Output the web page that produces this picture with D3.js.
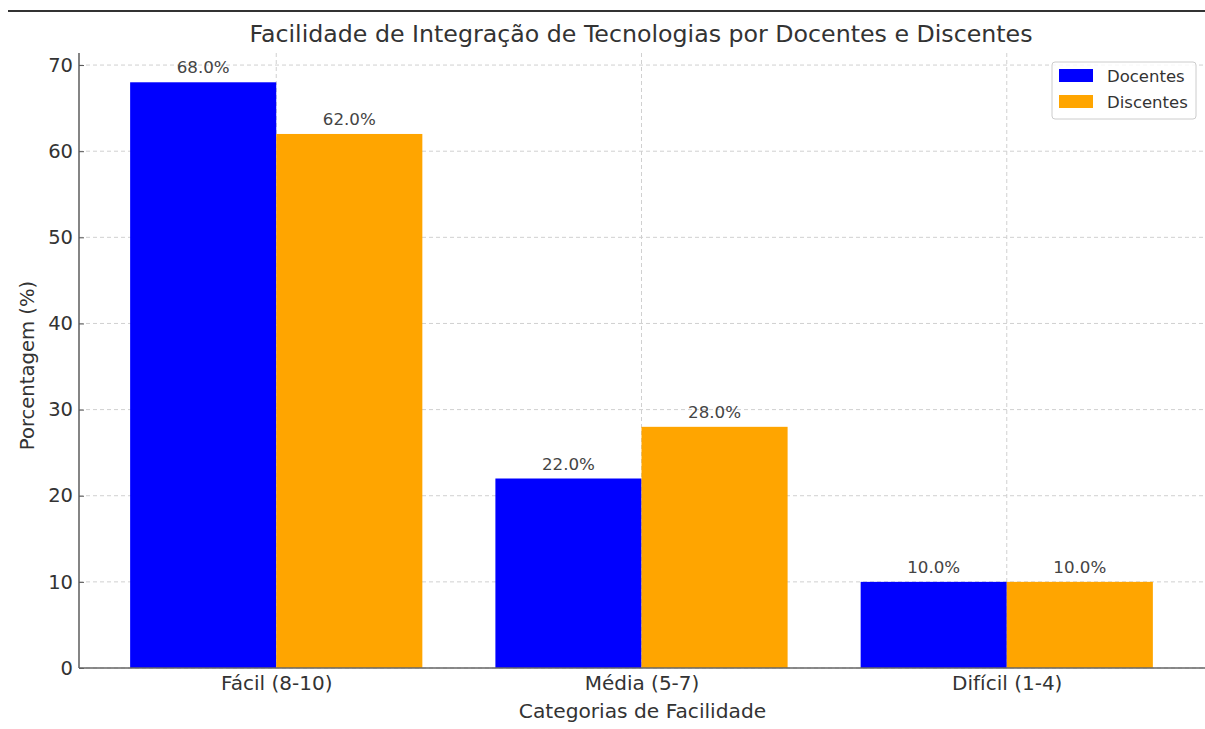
<!DOCTYPE html>
<html><head><meta charset="utf-8">
<script src="https://cdn.jsdelivr.net/npm/d3@7"></script>
<style>body{margin:0;background:#fff;} text{font-family:"DejaVu Sans",sans-serif;}</style>
</head><body><svg id="c" width="1205" height="729"></svg>
<script>
const categories = ["Fácil (8-10)", "Média (5-7)", "Difícil (1-4)"];
const seriesNames = ["Docentes", "Discentes"];
const docentes = [68, 22, 10];
const discentes = [62, 28, 10];
const yTicks = [0, 10, 20, 30, 40, 50, 60, 70];
const colors = ["#0000ff", "#ffa500"];
const title = "Facilidade de Integração de Tecnologias por Docentes e Discentes";

const svg = d3.select("#c");
svg.append("line").attr("x1",8).attr("x2",1205).attr("y1",11).attr("y2",11).attr("stroke","#333").attr("stroke-width",2);

const L=79, R=1204, T=53, B=668;
const x = d3.scaleLinear().domain([-0.54, 2.54]).range([L, R]);
const y = d3.scaleLinear().domain([0, 71.4]).range([B, T]);
const bw = 0.4;
const g = svg.append("g");
// grid
g.selectAll(".gy").data(yTicks).enter().append("line")
  .attr("x1",L).attr("x2",R).attr("y1",d=>y(d)).attr("y2",d=>y(d))
  .attr("stroke","#d0d0d0").attr("stroke-dasharray","4,3").attr("stroke-width",1);
g.selectAll(".gx").data(categories).enter().append("line")
  .attr("x1",(d,i)=>x(i)).attr("x2",(d,i)=>x(i)).attr("y1",T).attr("y2",B)
  .attr("stroke","#d0d0d0").attr("stroke-dasharray","4,3").attr("stroke-width",1);

const series=[docentes, discentes];
series.forEach((vals, s)=>{
  const off = s===0 ? -bw : 0;
  g.selectAll(".b"+s).data(vals).enter().append("rect")
   .attr("x",(d,i)=>x(i+off)).attr("width",x(bw)-x(0))
   .attr("y",d=>y(d)).attr("height",d=>B-y(d)).attr("fill",colors[s]);
  g.selectAll(".l"+s).data(vals).enter().append("text")
   .attr("x",(d,i)=>x(i+off+bw/2)).attr("y",d=>y(d)-9)
   .attr("text-anchor","middle").attr("font-size",16.7).attr("fill","#444")
   .text(d=>d.toFixed(1)+"%");
});

// axes
const yAxis = d3.axisLeft(y).tickValues(yTicks).tickSize(-5).tickPadding(6);
const ya = svg.append("g").attr("transform",`translate(${L},0)`).call(yAxis);
ya.select(".domain").attr("stroke","#666").attr("stroke-width",1.6).attr("d",`M-0,${T}V${B}`);
ya.selectAll(".tick line").attr("stroke","#555");
ya.selectAll(".tick text").attr("font-size",19.5).attr("fill","#333").attr("font-family","DejaVu Sans");

const xAxis = d3.axisBottom(x).tickValues([0,1,2]).tickFormat(i=>categories[i]).tickSize(0).tickPadding(8);
const xa = svg.append("g").attr("transform",`translate(0,${B})`).call(xAxis);
xa.select(".domain").attr("stroke","#666").attr("stroke-width",1.6).attr("d",`M${L},0H${R+1}`);
xa.selectAll(".tick text").attr("font-size",20).attr("fill","#333").attr("font-family","DejaVu Sans");

svg.append("text").attr("x",(L+R)/2+1).attr("y",718).attr("text-anchor","middle")
  .attr("font-size",20.2).attr("fill","#333").text("Categorias de Facilidade");
svg.append("text").attr("transform",`translate(34,${(T+B)/2+5}) rotate(-90)`).attr("text-anchor","middle")
  .attr("font-size",19.6).attr("fill","#333").text("Porcentagem (%)");
svg.append("text").attr("x",641).attr("y",42).attr("text-anchor","middle")
  .attr("font-size",23.7).attr("fill","#333").text(title);

// legend
const lg = svg.append("g");
lg.append("rect").attr("x",1052).attr("y",62).attr("width",144).attr("height",57).attr("rx",3)
  .attr("fill","#fff").attr("fill-opacity",0.85).attr("stroke","#ccc");
seriesNames.forEach((n,i)=>{
  lg.append("rect").attr("x",1059).attr("y",69+i*26).attr("width",34).attr("height",13).attr("fill",colors[i]);
  lg.append("text").attr("x",1107).attr("y",82+i*26).attr("font-size",16.5).attr("fill","#333").text(n);
});
</script></body></html>
